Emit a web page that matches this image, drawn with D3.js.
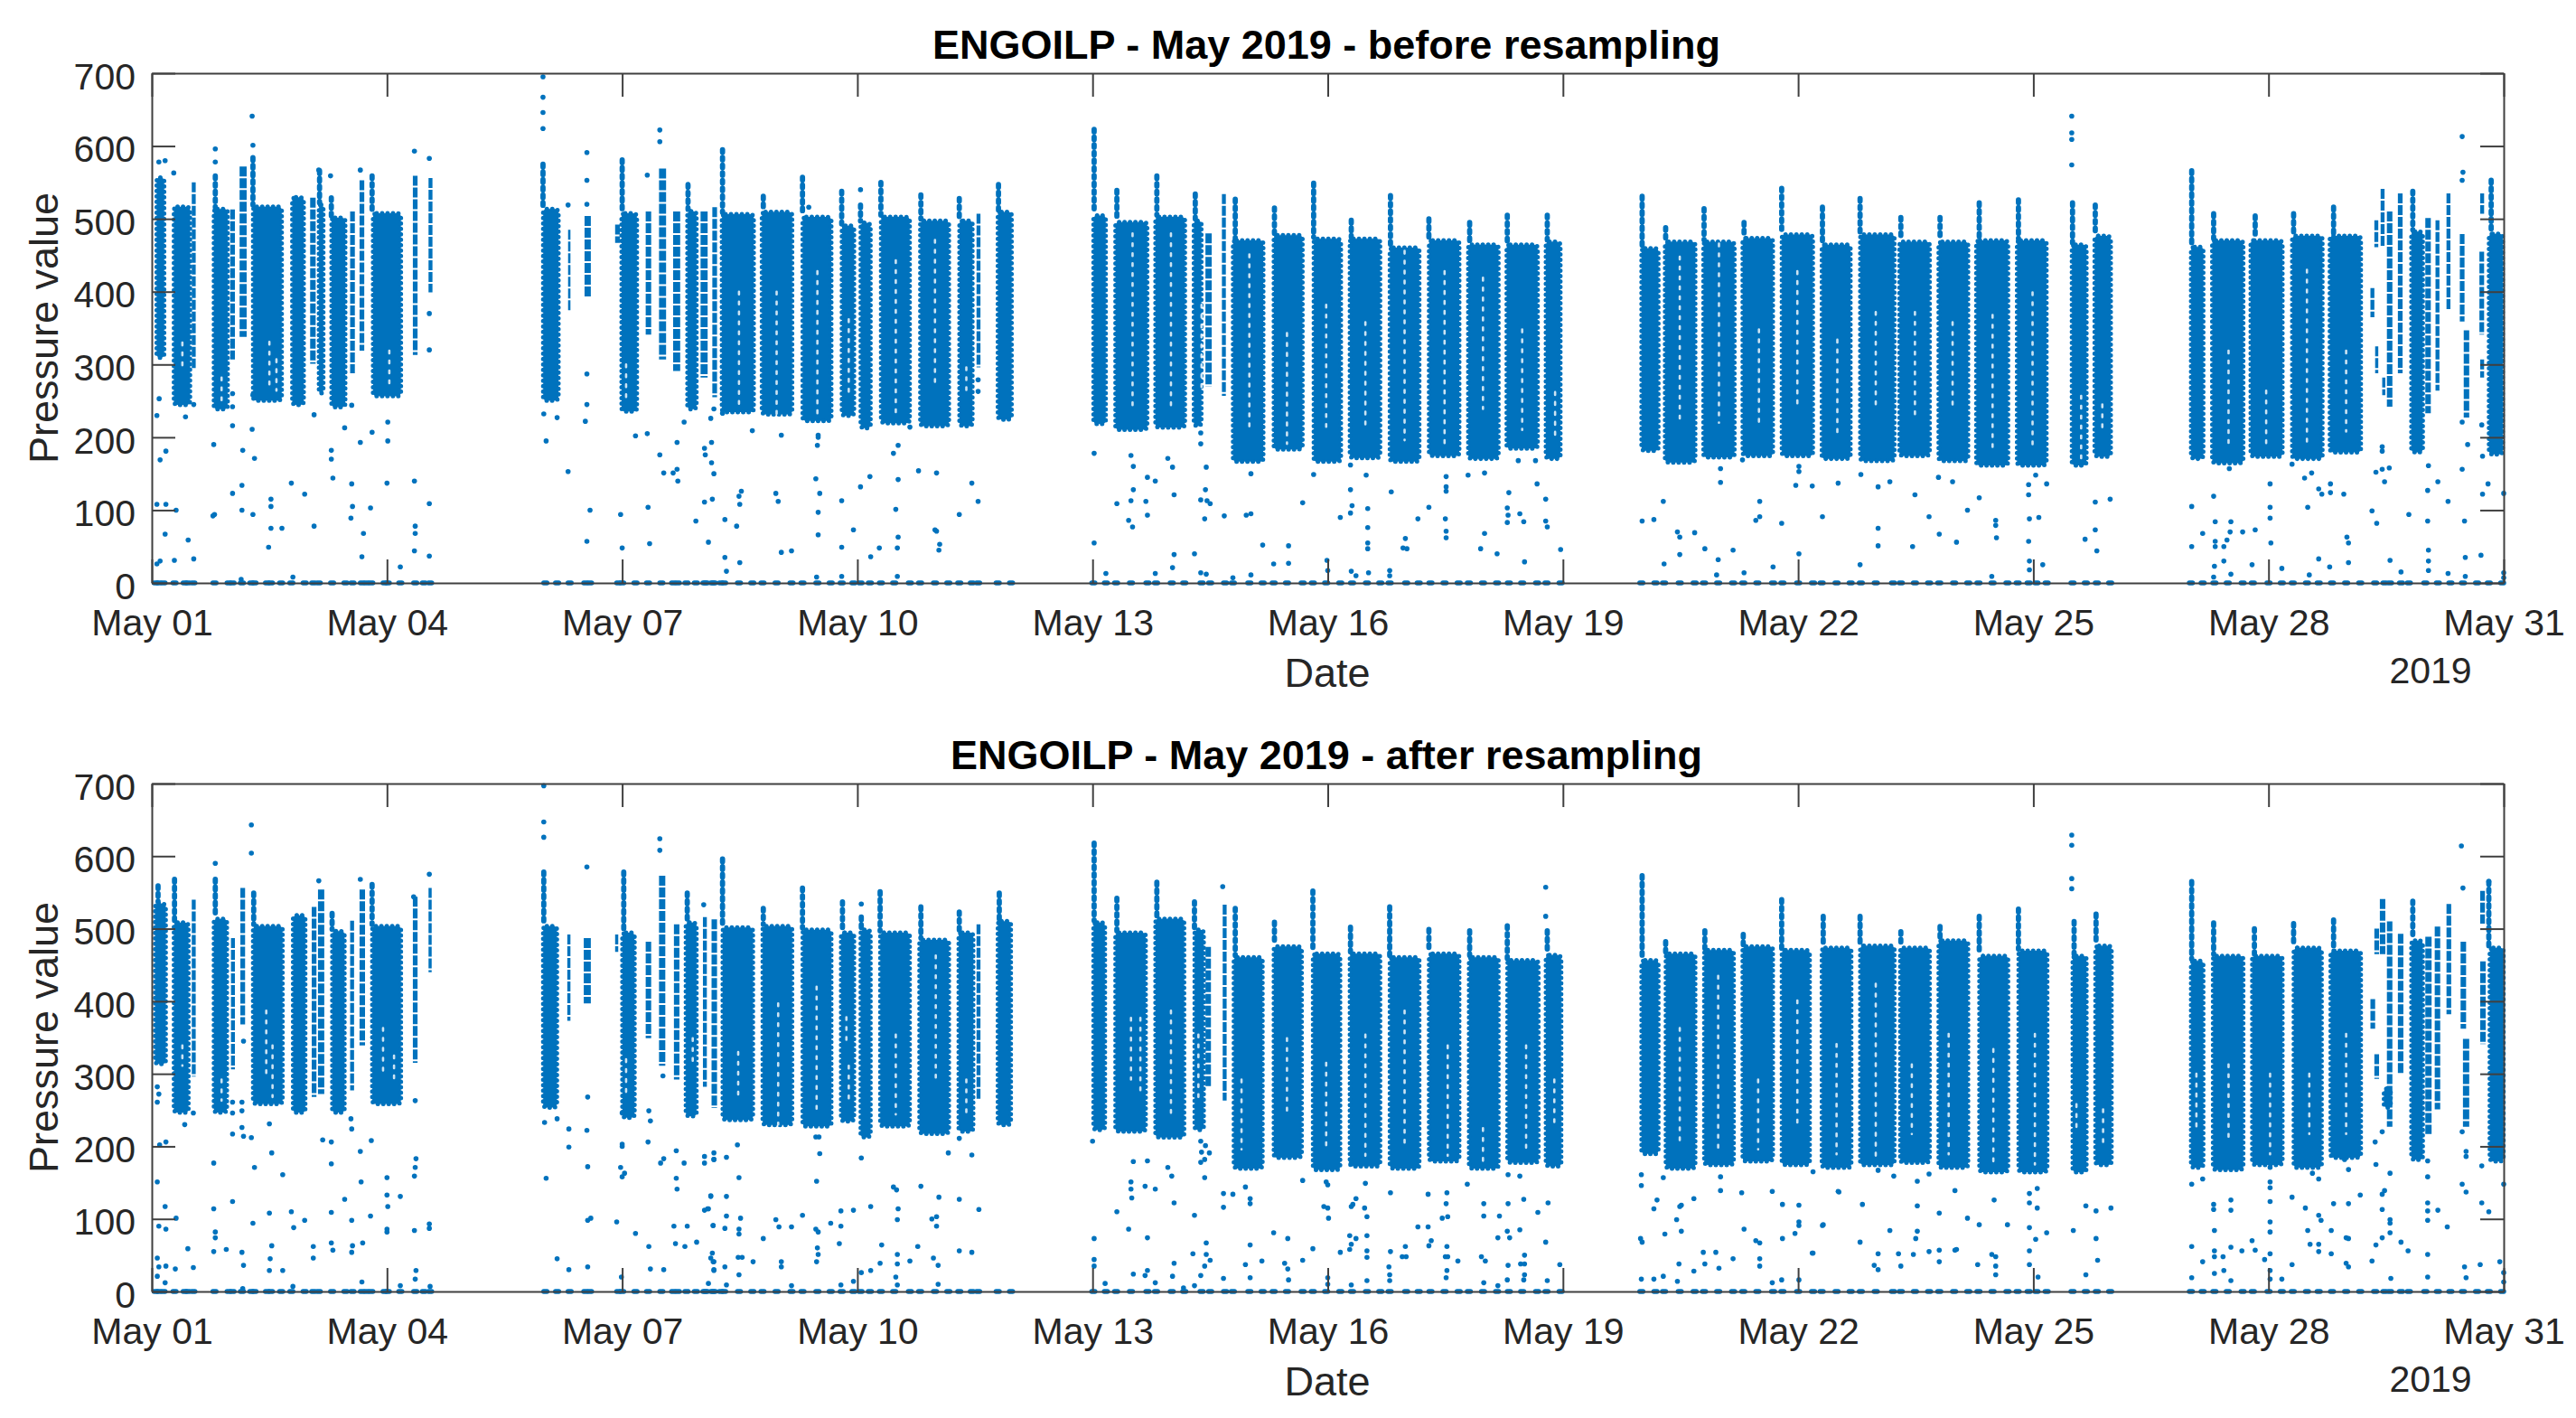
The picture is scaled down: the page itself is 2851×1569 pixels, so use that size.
<!DOCTYPE html>
<html>
<head>
<meta charset="utf-8">
<script src="https://cdn.jsdelivr.net/npm/d3@7"></script>
<style>
  html, body { margin: 0; padding: 0; background: #fff; }
  svg { display: block; }
  text { font-family: "Liberation Sans", Arial, sans-serif; }
</style>
</head>
<body>
<svg id="chart" width="2851" height="1569"></svg>
<script>
// x ticks, days counted from May 01
const dayTicks = [0, 3, 6, 9, 12, 15, 18, 21, 24, 27, 30];
const dayLabels = ['May 01', 'May 04', 'May 07', 'May 10', 'May 13', 'May 16', 'May 19', 'May 22', 'May 25', 'May 28', 'May 31'];
const pressureTicks = [0, 100, 200, 300, 400, 500, 600, 700];

// solid runs of samples: start day, end day, lowest, highest, then (optional) day and top of the start-up spike
const beforeRuns = [
  [.04,.18,307,559],[.26,.51,242,519],[.51,.56,295,550],[.77,.99,236,516,.81,559],[1,1.06,307,513],[1.12,1.21,338,572],
  [1.27,1.68,248,519,1.29,584],[1.77,1.96,242,532],[2.02,2.09,301,529],[2.11,2.21,258,522,2.14,566],[2.27,2.49,239,504,2.29,529],
  [2.53,2.59,288,510],[2.65,2.71,319,553],[2.8,3.2,254,510,2.81,559],[3.33,3.39,313,559],[3.53,3.58,399,556],
  [4.97,5.21,248,516,4.99,575],[5.31,5.34,372,485],[5.52,5.6,393,504],[5.91,5.97,467,492],[5.97,6.21,233,510,6,581],
  [6.3,6.37,341,510],[6.47,6.56,307,569],[6.65,6.74,291,510],[6.81,6.97,236,513,6.84,547],[7,7.09,282,510],[7.15,7.21,255,516],
  [7.25,7.7,232,509,7.28,595],[7.76,8.19,229,512,7.8,531],[8.28,8.69,220,505,8.3,557],[8.78,8.98,227,493,8.8,538],
  [9.02,9.19,210,497,9.04,519],[9.28,9.69,217,505,9.3,550],[9.78,10.19,213,500,9.81,533],[10.28,10.49,213,500,10.3,528],
  [10.52,10.57,296,507],[10.77,10.99,222,512,10.8,547],
  [11.99,12.19,216,507,12.02,623],[12.27,12.72,208,498,12.31,539],[12.78,13.2,211,505,12.82,559],[13.27,13.41,213,500,13.31,534],
  [13.44,13.52,270,480],[13.65,13.7,257,534],[13.77,14.2,164,473,13.82,527],[14.29,14.7,181,480,14.32,515],
  [14.8,15.19,164,475,14.82,549],[15.26,15.69,169,475,15.3,498],[15.77,16.19,164,463,15.8,532],[16.27,16.7,172,473,16.29,500],
  [16.77,17.2,168,467,16.81,495],[17.26,17.7,182,467,17.29,505],[17.76,17.99,168,471,17.8,505],
  [18.98,19.24,179,462,19.01,531],[19.28,19.71,163,471,19.31,488],[19.77,20.21,170,471,19.8,514],[20.27,20.7,172,476,20.31,495],
  [20.77,21.21,172,481,20.79,542],[21.28,21.69,168,467,21.31,516],[21.77,22.25,165,481,21.79,528],[22.27,22.7,172,471,22.31,502],
  [22.77,23.19,165,471,22.81,502],[23.25,23.7,159,473,23.31,522],[23.77,24.19,159,473,23.81,526],[24.47,24.7,159,467,24.5,522],
  [24.76,25.01,171,479,24.79,519],
  [25.99,26.19,168,464,26.02,566],[26.26,26.7,162,473,26.3,507],[26.75,27.2,171,473,26.83,504],[27.28,27.71,168,479,27.32,507],
  [27.76,28.2,177,479,27.83,516],[28.3,28.35,365,405],[28.36,28.4,288,325],[28.35,28.4,461,498],[28.43,28.48,461,541],
  [28.45,28.49,258,282],[28.51,28.58,242,510],[28.65,28.71,288,535],[28.8,28.99,177,485,28.84,538],[29,29.07,233,501],
  [29.13,29.18,264,498],[29.27,29.32,375,535],[29.44,29.5,359,479],[29.49,29.56,227,347],[29.69,29.75,341,455],
  [29.7,29.75,282,307],[29.7,29.75,507,535],[29.79,30.01,174,482,29.84,553]
];
const afterRuns = [
  [.02,.2,311,537,.08,559],[.26,.49,244,511,.29,568],[.51,.56,296,540],[.77,.98,244,516,.81,568],[1.01,1.06,306,487],[1.13,1.19,368,556],
  [1.27,1.69,256,506,1.3,549],[1.78,1.98,244,521],[2.04,2.1,268,530],[2.12,2.2,272,554],[2.28,2.48,244,499,2.3,521],
  [2.53,2.58,277,511],[2.65,2.72,339,554],[2.79,3.2,256,506,2.81,561],[3.33,3.39,315,544],[3.53,3.57,440,556],
  [4.97,5.19,251,506,5,578],[5.3,5.34,373,492],[5.51,5.6,397,487],[5.91,5.95,468,492],[5.98,6.18,237,497,6.02,578],
  [6.3,6.37,349,482],[6.47,6.55,311,573],[6.66,6.73,292,506],[6.79,6.97,239,511,6.83,549],[7.03,7.08,282,516],[7.14,7.21,253,513],
  [7.26,7.69,234,504,7.28,596],[7.77,8.19,227,506,7.8,528],[8.28,8.69,225,501,8.3,556],[8.77,8.98,232,497,8.81,537],
  [9.02,9.19,210,501,9.05,516],[9.27,9.69,225,497,9.29,551],[9.77,10.19,215,487,9.81,530],[10.27,10.5,218,497,10.3,523],
  [10.52,10.57,263,506],[10.77,10.98,227,513,10.81,549],
  [11.99,12.18,220,511,12.02,618],[12.27,12.7,218,497,12.31,542],[12.78,13.19,210,516,12.82,564],[13.28,13.44,220,501,13.3,537],
  [13.44,13.51,282,475],[13.66,13.71,263,533],[13.78,14.19,167,463,13.82,528],[14.29,14.69,182,478,14.32,509],
  [14.79,15.18,165,468,14.81,552],[15.26,15.69,170,468,15.29,502],[15.77,16.19,167,463,15.79,530],[16.27,16.7,177,468,16.29,499],
  [16.78,17.2,167,463,16.81,497],[17.27,17.71,175,459,17.29,504],[17.76,18,170,466,17.8,497],
  [18.98,19.24,187,459,19.01,573],[19.29,19.71,167,468,19.31,482],[19.78,20.2,172,473,19.81,497],[20.27,20.7,177,478,20.3,492],
  [20.77,21.17,172,473,20.79,540],[21.28,21.7,168,476,21.32,517],[21.77,22.25,172,479,21.79,517],[22.28,22.7,175,476,22.31,496],
  [22.77,23.19,168,486,22.81,503],[23.29,23.7,162,465,23.31,517],[23.79,24.2,162,472,23.81,527],[24.48,24.7,162,465,24.52,510],
  [24.77,25.02,172,479,24.8,520],
  [25.99,26.19,168,458,26.02,565],[26.27,26.7,165,465,26.3,508],[26.77,27.2,172,465,26.82,500],[27.3,27.7,168,476,27.32,507],
  [27.77,28.2,182,472,27.83,512],[28.3,28.36,362,403],[28.35,28.41,465,500],[28.35,28.41,293,327],[28.42,28.49,465,541],
  [28.45,28.58,251,282],[28.51,28.58,227,510],[28.65,28.72,300,493],[28.8,28.99,179,486,28.84,538],[29,29.08,217,489],
  [29.12,29.19,251,503],[29.27,29.33,382,534],[29.45,29.52,362,482],[29.48,29.56,227,348],[29.7,29.77,341,455],
  [29.7,29.76,507,552],[29.8,30.02,177,476,29.81,565]
];

// thin seams with few samples inside the runs: day, lowest, highest
const beforeSeams = [
  [.39,290,330],[.89,245,282],[1.5,270,331],[1.59,264,307],[3.03,270,319],[6.05,250,300],
  [7.49,239,400],[7.97,229,400],[8.49,229,428],[8.89,262,362],[9.49,229,443],[9.99,272,471],[10.39,262,296],
  [12.51,235,480],[13,235,480],[13.39,260,382],[14,211,451],[14.48,191,343],[14.98,211,382],[15.48,211,358],[15.98,196,456],
  [16.49,191,428],[16.98,239,419],[17.48,210,348],[17.9,201,262],
  [19.49,220,448],[19.99,220,466],[20.5,220,348],[20.99,239,428],[21.5,201,334],[21.99,239,372],[22.49,229,372],[22.97,239,358],
  [23.48,184,368],[23.99,184,399],[24.61,171,257],[24.88,208,245],
  [26.49,184,319],[26.97,190,264],[27.49,190,430],[27.99,208,319]
];
const afterSeams = [
  [.39,311,339],[.89,263,292],[1.46,292,387],[1.54,268,339],[2.95,301,363],[3.09,292,325],[6.05,272,320],[6.9,315,349],
  [7.48,263,330],[7.99,230,397],[8.48,244,420],[8.86,340,378],[8.89,263,311],[9.49,244,354],[10,292,463],[10.39,239,292],
  [12.49,292,377],[12.61,268,377],[13,244,387],[13.35,268,354],[13.9,196,292],[14.48,244,349],
  [14.98,196,315],[15.48,187,354],[15.98,196,387],[16.53,187,339],[16.98,177,225],[17.53,191,339],[17.89,225,292],
  [19.49,206,363],[19.98,196,435],[20.49,196,292],[20.99,225,401],[21.49,189,341],
  [21.99,182,424],[22.45,217,313],[22.92,189,355],[23.49,175,334],[24.02,175,355],[24.55,217,258],[24.89,203,251],
  [26.08,224,300],[26.49,210,313],[27.02,189,300],[27.52,217,300],[27.99,217,355]
];

// single samples outside the solid runs: [day, pressure]
const beforeDots = [
  [.065,230],[.094,253],[.106,169],[.18,181],[.065,108],[.18,108],[.31,100],[.17,67],[.065,26],[.106,30],[.288,31],[.464,59],[.535,33],[.43,228],[.535,245],
  [.79,190],[.78,92],[.8,94],[1.03,123],[1.03,216],[1.03,242],[1.03,260],[1.15,100],[1.16,182],[1.15,134],[1.28,211],[1.31,171],[1.29,94],[1.29,258],
  [1.52,115],[1.52,105],[1.52,75],[1.66,75],[1.49,49],[1.78,137],[1.95,122],[2.07,231],[2.07,78],[2.29,182],[2.29,170],[2.31,144],[2.46,213],
  [2.55,136],[2.56,105],[2.54,89],[2.55,244],[2.66,193],[2.81,207],[2.79,103],[2.7,68],[2.68,36],[3.01,221],[3.01,195],[3,137],[3.17,22],
  [3.35,140],[3.36,78],[3.36,68],[3.35,44],[3.54,109],[3.54,37],[1.8,8],[1.14,5],
  [.09,578],[.17,580],[.28,563],[.81,596],[.81,578],[1.28,641],[1.29,601],[2.13,567],[2.28,559],[2.66,567],[3.35,593],[3.54,583],[3.54,370],[3.54,320],
  [4.99,695],[4.99,667],[4.99,646],[4.99,624],[5,232],[5.03,195],[5.17,227],[5.31,153],[5.31,519],[5.55,591],[5.55,553],[5.55,520],[5.55,287],[5.55,245],[5.53,222],[5.59,100],[5.55,57],
  [5.98,94],[6,48],[6.17,202],[6.32,205],[6.33,104],[6.35,54],[6.48,622],[6.48,606],[6.48,176],[6.53,151],[6.65,151],[6.7,156],[6.71,140],[6.7,193],[6.79,221],
  [6.94,85],[7.05,111],[7.05,185],[7.06,176],[7.14,165],[7.17,150],[7.15,115],[7.1,56],[7.14,193],[6.32,560],
  [7.13,226],[7.17,239],[7.28,233],[7.66,209],[8.03,203],[8.5,203],[8.5,200],[8.49,189],[7.52,126],[7.49,119],[7.5,108],[7.31,87],[7.46,78],[7.31,35],[7.5,28],[7.33,16],
  [7.96,123],[7.99,112],[8.03,42],[8.16,44],[8.47,143],[8.52,123],[8.5,97],[8.5,66],[8.48,8],[8.8,113],[8.8,49],[8.8,9],[8.95,73],[9.04,132],[9.16,146],[9.17,36],[9.28,48],
  [9.52,189],[9.46,178],[9.52,142],[9.49,101],[9.52,63],[9.51,48],[9.51,9],[9.67,214],[9.78,154],[10.01,151],[10.46,137],[10.54,112],[10.3,94],[9.99,73],[10.01,71],[10.05,53],[10.04,45],
  [10.54,263],[10.54,279],[9.04,540],[8.38,516],
  [12.02,178],[12.02,55],[12.49,175],[12.52,160],[12.52,128],[12.49,113],[12.46,86],[12.51,77],[12.31,109],[12.17,13],[12.7,145],[12.8,140],[12.68,112],[12.7,93],
  [12.96,171],[13.02,159],[13.04,121],[13.04,39],[13.02,21],[12.8,13],[13.38,206],[13.38,191],[13.45,159],[13.44,128],[13.38,114],[13.46,113],[13.5,109],[13.43,88],[13.3,40],[13.38,14],[13.45,12],
  [13.68,92],[13.96,93],[14.02,95],[14.02,150],[14.17,52],[14.5,51],[14.31,26],[14.5,27],[14.68,110],[14.82,149],[14.02,11],[13.79,7],
  [15.29,162],[15.49,148],[15.29,128],[15.31,106],[15.29,96],[15.16,90],[15.51,102],[15.51,76],[15.51,55],[15.51,47],[15.52,14],[14.99,31],[15,17],[15.3,16],[15.36,10],
  [15.81,125],[16.29,104],[16.15,88],[15.99,61],[15.96,48],[16.01,47],[15.79,17],[15.79,10],
  [16.51,146],[16.51,132],[16.51,126],[16.5,88],[16.51,71],[16.51,62],[16.79,148],[17,151],[17,68],[16.95,47],[17.16,40],
  [17.31,124],[17.29,103],[17.3,93],[17.29,83],[17.45,95],[17.5,84],[17.51,29],[17.67,136],[17.78,115],[17.78,85],[17.8,77],[17.43,168],[17.97,46],[17.65,168],
  [19.01,85],[19.16,87],[19.28,112],[19.46,70],[19.49,63],[19.68,69],[19.49,39],[19.29,26],[19.81,47],[19.98,32],[20.17,45],[19.96,11],[20.01,157],[20.01,138],[20.31,14],
  [20.29,169],[20.51,112],[20.51,91],[20.46,86],[20.79,82],[20.68,22],[21.01,160],[21.01,153],[20.97,134],[21.18,133],[21.01,40],[21.51,137],[21.31,91],
  [21.8,149],[22.02,132],[22.17,139],[22.02,75],[22.02,51],[21.79,25],[22.46,50],[22.49,121],[22.67,91],[22.8,67],[23.02,56],[22.79,145],[22.97,139],[23.16,100],
  [23.31,117],[23.52,86],[23.52,79],[23.53,62],[23.47,9],[23.94,135],[23.94,121],[23.95,88],[23.94,57],[23.95,30],[23.95,18],[24.03,148],[24.07,90],[24.17,136],[24.12,25],
  [24.66,60],[24.79,111],[24.79,73],[24.81,44],[24.98,115],[24.49,641],[24.49,618],[24.49,609],[24.49,574],
  [26.02,105],[26.02,50],[26.16,68],[26.3,119],[26.32,84],[26.32,57],[26.32,50],[26.31,23],[26.3,8],[26.43,50],[26.47,59],[26.43,30],[26.51,70],[26.52,84],[26.67,70],[26.83,73],[26.79,25],[26.52,12],[26.5,157],
  [27.02,136],[27.02,104],[27.02,89],[27.03,55],[27.03,180],[27.17,20],[27.3,163],[27.46,144],[27.55,151],[27.64,129],[27.68,122],[27.79,136],[27.79,124],[27.96,122],[27.5,104],[27.64,33],[27.78,22],[27.52,11],
  [28,63],[28.02,55],[28.02,28],[28.32,99],[28.38,82],[28.37,152],[28.48,139],[28.54,158],[28.45,156],[28.45,187],[28.45,181],[28.55,31],[28.69,15],
  [28.79,94],[29.04,161],[29.16,139],[29.03,127],[29.03,85],[29.04,45],[29.04,30],[29.04,17],[29.29,112],[29.29,13],
  [29.47,156],[29.5,85],[29.51,35],[29.54,190],[29.47,221],[29.51,9],[29.47,613],[29.48,564],[29.47,553],
  [29.8,136],[29.73,122],[29.71,38],[29.73,174],[29.72,217],[30,123],[30,14],[30,7]
];
const afterDots = [
  [.07,282],[.09,272],[.07,261],[.1,202],[.18,206],[.07,151],[.31,101],[.17,117],[.09,90],[.18,86],[.07,46],[.09,34],[.18,35],[.07,21],[.17,12],[.3,31],[.53,33],[.46,59],[.42,230],[.53,246],
  [.79,177],[.79,114],[.81,82],[.81,74],[.79,55],[.95,58],[1.03,217],[1.03,246],[1.03,261],[1.03,124],[1.15,261],[1.15,249],[1.15,226],[1.17,214],[1.27,212],[1.31,171],[1.29,94],[1.15,54],[1.17,36],[1.17,345],
  [1.5,231],[1.53,191],[1.67,161],[1.5,108],[1.53,63],[1.51,45],[1.5,29],[1.67,29],[1.78,110],[1.81,88],[1.95,98],[2.06,62],[2.06,46],[2.18,209],[2.29,206],[2.29,176],[2.29,109],[2.29,67],[2.31,57],[2.46,127],
  [2.54,238],[2.55,224],[2.55,98],[2.55,54],[2.56,63],[2.69,67],[2.66,193],[2.67,151],[2.8,208],[2.79,104],[3,157],[3,133],[3.01,117],[3,86],[3,82],[3.17,131],[3.17,8],
  [3.36,263],[3.37,183],[3.36,171],[3.35,159],[3.35,84],[3.37,29],[3.36,17],[3.54,93],[3.54,87],[3.55,7],[2.68,13],[1.8,7],[1.16,4],
  [5.01,233],[5.03,156],[5.17,238],[5.17,45],[5.32,224],[5.32,199],[5.32,30],[5.55,222],[5.56,172],[5.56,268],[5.56,98],[5.6,101],[5.56,34],
  [5.93,96],[6,246],[6,203],[6,200],[5.98,171],[6.03,163],[6,158],[5.99,20],[6.17,80],[6.34,249],[6.36,235],[6.33,206],[6.34,62],[6.36,31],[6.52,297],[6.53,183],[6.49,177],[6.53,30],
  [6.69,194],[6.79,177],[6.69,156],[6.7,141],[6.66,90],[6.83,90],[6.68,66],[6.8,62],[6.95,68],[7.05,186],[7.05,177],[7.17,182],[7.13,132],[7.05,112],[7.1,114],[7.16,91],[7.13,46],[7.17,41],[7.17,30],[7.1,11],
  [5,697],[5,647],[5,626],[1.27,643],[1.27,604],[.81,590],[6.48,624],[6.48,608],[3.54,575],[2.13,566],[2.66,568],[3.34,544],[5.55,585],[7.04,533],
  [7.17,191],[7.17,182],[7.33,185],[7.47,202],[7.49,157],[7.13,131],[7.33,131],[7.09,114],[7.33,104],[7.51,101],[7.16,91],[7.31,87],[7.49,86],[7.49,79],[7.15,53],[7.16,41],[7.17,29],[7.31,34],[7.48,47],[7.53,47],[7.49,23],[7.33,9],[7.67,41],[7.8,73],
  [7.96,99],[8,89],[8.16,89],[8.03,41],[8.03,34],[8.16,8],[8.3,105],[8.48,152],[8.52,190],[8.47,213],[8.51,213],[8.47,86],[8.5,82],[8.66,94],[8.49,60],[8.5,51],[8.48,41],[8.79,111],[8.79,90],[8.77,66],[8.95,112],[8.79,9],
  [8.95,14],[9.05,184],[9.17,117],[9.05,26],[9.17,29],[9.31,64],[9.29,39],[9.46,144],[9.5,140],[9.52,114],[9.51,99],[9.51,51],[9.51,38],[9.49,20],[9.51,9],[9.67,42],[9.77,62],
  [9.81,145],[10.04,130],[10.16,191],[9.95,100],[10.01,103],[10.01,90],[10.3,127],[10.3,56],[10.46,54],[10.46,188],[10.55,113],[9.97,46],[10.03,36],[10.03,10],[10.3,211],[9.05,534],
  [12,207],[12.02,73],[12.02,44],[12.02,35],[12.16,11],[12.31,110],[12.52,179],[12.7,180],[12.49,151],[12.49,141],[12.5,129],[12.67,145],[12.8,141],[12.46,86],[12.7,74],[12.52,24],[12.7,29],[12.67,22],[12.8,12],
  [12.96,171],[13.01,159],[13.04,122],[13.04,39],[13.02,21],[13.16,5],[13.38,207],[13.44,201],[13.39,192],[13.49,191],[13.38,178],[13.43,182],[13.43,157],[13.3,105],[13.45,67],[13.45,51],[13.5,43],[13.28,52],[13.43,35],[13.38,22],[13.3,8],
  [13.67,135],[13.67,116],[13.79,134],[13.95,144],[14.01,128],[14.01,121],[14.01,64],[13.95,37],[14.01,19],[13.67,18],[14.16,42],[14.31,81],[14.49,73],[13.66,558],
  [14.49,31],[14.45,39],[14.5,16],[14.68,153],[14.68,43],[14.81,59],[14.98,151],[15,147],[14.95,117],[15,115],[15.01,101],[15,19],[15,10],
  [15.3,177],[15.48,149],[15.36,128],[15.32,120],[15.3,117],[15.47,115],[15.5,103],[15.16,54],[15.28,77],[15.36,73],[15.3,65],[15.28,58],[15.5,77],[15.5,56],[15.5,47],[15.5,15],[15.3,9],
  [15.8,136],[15.8,55],[15.78,34],[15.79,23],[15.79,15],[15.99,62],[15.95,48],[16,48],[16.15,89],[16.28,134],[16.52,136],[16.51,121],[16.53,103],[16.46,101],[16.28,89],[16.32,70],[16.29,63],[16.52,62],[16.5,48],[16.53,48],[16.52,29],[16.51,19],[16.66,42],
  [16.78,148],[16.99,121],[16.99,104],[16.96,48],[17.01,42],[16.99,12],[17.17,8],[17.19,104],[17.17,74],[17.3,161],[17.45,159],[17.3,121],[17.5,127],[17.29,83],[17.32,74],[17.45,85],[17.3,36],[17.29,16],[17.46,38],[17.51,38],[17.51,50],[17.51,23],[17.5,16],
  [17.68,109],[17.81,122],[17.78,68],[17.8,15],[17.96,37],[17.78,557],[17.78,517],
  [19,161],[19,146],[19.28,157],[19.2,126],[19.16,114],[18.99,73],[19.01,68],[19.3,79],[19,17],[19.16,17],[19.28,21],[19.45,99],[19.49,117],[19.51,119],[19.51,83],[19.67,128],[19.48,38],[19.46,14],[19.67,28],
  [19.79,54],[19.81,38],[19.95,54],[19.99,32],[20.01,158],[20.01,139],[20.17,45],[20.28,136],[20.67,138],[20.31,86],[20.46,70],[20.51,67],[20.51,45],[20.51,35],[20.67,12],
  [20.8,120],[21.01,119],[21.01,96],[21.01,91],[20.96,80],[20.8,73],[20.79,16],[21.01,16],[21.18,53],[21.31,91],[21.51,138],
  [21.19,165],[21.19,53],[21.32,92],[21.52,137],[21.82,120],[21.79,68],[22.02,167],[22.02,52],[21.97,36],[22.02,30],[22.22,159],[22.17,84],[22.28,52],[22.31,35],[22.47,51],[22.52,152],[22.52,118],[22.52,83],[22.5,73],[22.67,162],[22.67,55],
  [22.8,108],[22.8,57],[22.8,41],[23,139],[23,57],[23.02,58],[23.16,101],[23.31,92],[23.29,37],[23.5,126],[23.47,51],[23.52,48],[23.52,35],[23.52,23],[23.67,92],
  [23.95,135],[24.05,142],[23.95,122],[24.05,115],[23.95,88],[23.95,56],[24.03,72],[24.17,81],[23.95,37],[24.06,20],[24.51,84],[24.67,118],[24.67,23],[24.8,111],[24.8,73],[24.82,43],[24.99,115],[24.49,629],[24.49,615],[24.49,569],[24.49,555],
  [26.02,148],[26.02,62],[26.02,19],[26.16,155],[26.16,41],[26.3,120],[26.3,113],[26.52,126],[26.52,112],[26.31,84],[26.31,56],[26.31,48],[26.31,25],[26.52,61],[26.42,48],[26.43,29],[26.52,15],[26.66,56],[26.79,70],[26.83,57],[26.95,44],
  [27.02,171],[27.02,151],[27.02,143],[27.02,124],[27.02,96],[27.02,82],[27.02,52],[27.02,29],[27.02,17],[27.17,17],[27.3,130],[27.47,115],[27.64,105],[27.67,98],[27.5,84],[27.53,65],[27.64,65],[27.64,55],[27.8,84],[27.8,52],[27.56,163],[27.64,155],[27.3,37],
  [27.99,74],[28.02,73],[27.99,39],[28.02,34],[27.83,121],[28.02,121],[28.17,133],[28.02,168],[27.97,182],[28.36,206],[28.45,220],[28.37,175],[28.55,163],[28.48,139],[28.45,134],[28.45,113],[28.55,99],[28.55,94],[28.55,81],[28.45,74],[28.37,64],[28.32,42],[28.56,18],
  [28.69,68],[28.78,56],[29.03,180],[29.03,158],[29.03,122],[29.03,111],[29.03,98],[29.03,51],[29.03,20],[29.16,112],[29.28,89],[29.47,148],[29.52,137],[29.52,193],[29.52,186],[29.47,220],[29.5,34],[29.52,19],
  [29.72,173],[29.72,122],[29.81,110],[29.7,37],[30,148],[29.95,41],[30,26],[30,13],[29.46,614],[29.48,556],[29.81,565]
];

// days where the signal sits on zero (same in both plots)
const zeroDays = [
  .05,.09,.15,.29,.42,.46,.53,.8,.98,1.03,1.15,1.27,1.31,1.47,1.52,1.65,1.78,1.95,2.06,2.13,2.3,2.47,2.56,2.68,2.74,2.8,2.97,3.01,3.17,3.36,3.47,3.55,
  5.02,5.17,5.33,5.53,5.59,5.95,6,6.17,6.33,6.5,6.65,6.71,6.82,6.94,7.05,7.15,7.26,
  7.07,7.17,7.3,7.49,7.66,7.79,7.97,8.16,8.3,8.49,8.66,8.8,8.95,9.04,9.16,9.3,9.47,9.67,9.8,9.99,10.16,10.3,10.46,10.54,10.79,10.96,
  12.01,12.17,12.3,12.49,12.7,12.81,13.01,13.17,13.39,13.5,13.69,13.79,14,14.17,14.31,14.48,14.68,14.81,14.98,15.16,15.31,15.5,15.67,15.79,16,16.16,16.31,
  16.49,16.67,16.8,16.98,17.16,17.31,17.48,17.67,17.79,17.97,
  19,19.18,19.29,19.49,19.68,19.8,19.98,20.17,20.3,20.48,20.68,20.8,21,21.19,21.3,21.49,21.67,21.8,21.99,22.21,22.31,22.49,22.67,22.8,22.99,23.17,
  23.3,23.48,23.67,23.8,23.94,24.04,24.17,24.5,24.67,24.81,24.98,
  26.01,26.16,26.31,26.48,26.67,26.8,27,27.17,27.31,27.49,27.64,27.81,27.99,28.17,28.36,28.48,28.55,28.69,28.79,29,29.16,29.32,29.48,29.66,29.81,29.98
];

const blue = '#0072BD';
const axisColor = '#404040';
const svg = d3.select('#chart');
const x = d3.scaleLinear().domain([0, 30]).range([168, 2771]);

function drawPanel(top, bottom, title, runs, seams, dots) {
    const y = d3.scaleLinear().domain([0, 700]).range([bottom, top]);
    const g = svg.append('g');

    // Wide runs, inset a little with a row of dots round the edge
    g.selectAll('.run').data(runs.filter(d => d[1] - d[0] >= 0.1)).enter().append('rect')
        .attr('class', 'run')
        .attr('x', d => x(d[0]) + 2)
        .attr('y', d => y(d[3]) + 2)
        .attr('width', d => x(d[1]) - x(d[0]) - 4)
        .attr('height', d => y(d[2]) - y(d[3]) - 4)
        .attr('rx', 4)
        .attr('fill', blue)
        .attr('stroke', blue)
        .attr('stroke-width', 5)
        .attr('stroke-linecap', 'round')
        .attr('stroke-dasharray', '0 6');

    // Narrow runs are broken columns of samples
    g.selectAll('.narrow').data(runs.filter(d => d[1] - d[0] < 0.1)).enter().append('line')
        .attr('class', 'narrow')
        .attr('x1', d => x((d[0] + d[1]) / 2))
        .attr('x2', d => x((d[0] + d[1]) / 2))
        .attr('y1', d => y(d[3]))
        .attr('y2', d => y(d[2]))
        .attr('stroke', blue)
        .attr('stroke-width', d => x(d[1]) - x(d[0]))
        .attr('stroke-dasharray', '11 2');

    // Seams of missing samples inside the runs
    g.selectAll('.seam').data(seams).enter().append('line')
        .attr('class', 'seam')
        .attr('x1', d => x(d[0]))
        .attr('x2', d => x(d[0]))
        .attr('y1', d => y(d[2]))
        .attr('y2', d => y(d[1]))
        .attr('stroke', '#fff')
        .attr('stroke-opacity', 0.8)
        .attr('stroke-width', 2.6)
        .attr('stroke-linecap', 'round')
        .attr('stroke-dasharray', '3 8');

    // Start-up spikes above the runs, chains of samples
    g.selectAll('.spike').data(runs.filter(d => d.length > 4)).enter().append('line')
        .attr('class', 'spike')
        .attr('x1', d => x(d[4]))
        .attr('x2', d => x(d[4]))
        .attr('y1', d => y(d[5]))
        .attr('y2', d => y(d[3]))
        .attr('stroke', blue)
        .attr('stroke-width', 5.8)
        .attr('stroke-linecap', 'round')
        .attr('stroke-dasharray', '3 5.5');

    // Samples on zero and scattered samples
    g.selectAll('.zero').data(zeroDays).enter().append('rect')
        .attr('class', 'zero')
        .attr('x', d => x(d) - 4.5)
        .attr('y', y(0) - 2.7)
        .attr('width', 9)
        .attr('height', 5.4)
        .attr('rx', 2.7)
        .attr('fill', blue);
    g.selectAll('.dot').data(dots).enter().append('circle')
        .attr('class', 'dot')
        .attr('cx', d => x(d[0]))
        .attr('cy', d => y(d[1]))
        .attr('r', 2.8)
        .attr('fill', blue);

    // Axes, ticks inward on all four sides
    const axes = [
        d3.axisBottom(x).tickValues(dayTicks).tickFormat((d, i) => dayLabels[i]).tickSizeInner(-26).tickPadding(29),
        d3.axisTop(x).tickValues(dayTicks).tickFormat('').tickSizeInner(-26),
        d3.axisLeft(y).tickValues(pressureTicks).tickSizeInner(-26).tickPadding(18),
        d3.axisRight(y).tickValues(pressureTicks).tickFormat('').tickSizeInner(-26)
    ];
    const shifts = [[0, bottom], [0, top], [168, 0], [2771, 0]];
    axes.forEach((axis, i) => {
        const a = g.append('g')
            .attr('transform', `translate(${shifts[i][0]}, ${shifts[i][1]})`)
            .call(axis.tickSizeOuter(0));
        a.selectAll('path, line').attr('stroke', axisColor).attr('stroke-width', 2);
        a.selectAll('text').attr('font-size', 41).attr('fill', '#262626')
            .attr('font-family', '"Liberation Sans", Arial, sans-serif');
        if (i === 2) a.selectAll('text').attr('dy', '0.42em');
    });

    g.append('text')
        .attr('x', 1468)
        .attr('y', top - 16)
        .attr('text-anchor', 'middle')
        .attr('font-size', 45)
        .attr('font-weight', 'bold')
        .attr('fill', '#000')
        .text(title);
    g.append('text')
        .attr('x', 1469)
        .attr('y', bottom + 115)
        .attr('text-anchor', 'middle')
        .attr('font-size', 45)
        .attr('fill', '#262626')
        .text('Date');
    g.append('text')
        .attr('x', 2690)
        .attr('y', bottom + 111)
        .attr('text-anchor', 'middle')
        .attr('font-size', 41)
        .attr('fill', '#262626')
        .text('2019');
    g.append('text')
        .attr('transform', `translate(64, ${(top + bottom) / 2}) rotate(-90)`)
        .attr('text-anchor', 'middle')
        .attr('font-size', 45)
        .attr('fill', '#262626')
        .text('Pressure value');
}

drawPanel(81, 645, 'ENGOILP - May 2019 - before resampling', beforeRuns, beforeSeams, beforeDots);
drawPanel(867, 1429, 'ENGOILP - May 2019 - after resampling', afterRuns, afterSeams, afterDots);
</script>
</body>
</html>
